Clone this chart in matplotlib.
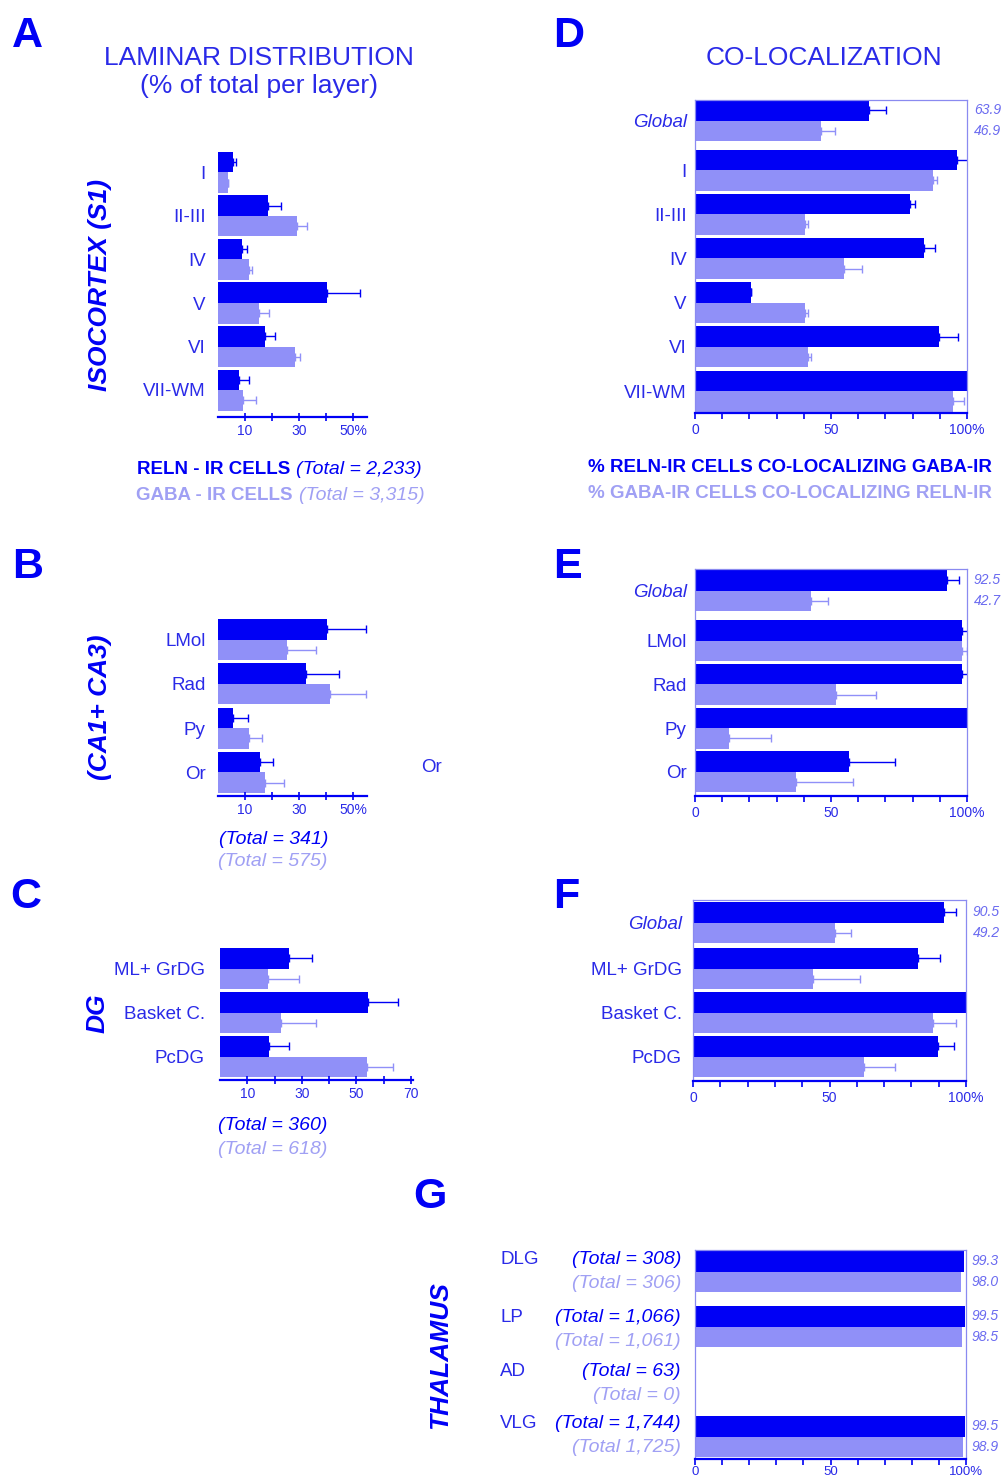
import numpy as np
import matplotlib
matplotlib.use('Agg')
import matplotlib.pyplot as plt

plt.rcParams['font.family'] = ['Liberation Sans', 'DejaVu Sans']

# --- data ---
# A: laminar distribution, isocortex (% of total per layer)
a_cats = ['I', 'II-III', 'IV', 'V', 'VI', 'VII-WM']
a_reln = [5.6, 18.4, 8.8, 40.3, 17.4, 7.8]
a_reln_err = [1.0, 4.8, 1.8, 12.3, 3.8, 3.8]
a_gaba = [3.7, 29.0, 11.6, 15.0, 28.4, 9.3]
a_gaba_err = [0.0, 3.7, 1.0, 3.8, 2.0, 4.9]

# B: hippocampus (CA1 + CA3)
b_cats = ['LMol', 'Rad', 'Py', 'Or']
b_reln = [40.4, 32.5, 5.6, 15.6]
b_reln_err = [14.2, 12.3, 5.6, 4.7]
b_gaba = [25.5, 41.5, 11.6, 17.4]
b_gaba_err = [10.5, 13.3, 4.8, 6.8]

# C: dentate gyrus
c_cats = ['ML+ GrDG', 'Basket C.', 'PcDG']
c_reln = [25.3, 54.3, 17.8]
c_reln_err = [8.5, 11.0, 7.3]
c_gaba = [17.5, 22.3, 53.7]
c_gaba_err = [11.5, 12.8, 9.8]

# D: co-localization, isocortex
d_cats = ['Global', 'I', 'II-III', 'IV', 'V', 'VI', 'VII-WM']
d_reln = [63.9, 96.3, 79.0, 84.3, 20.6, 89.8, 100.0]
d_reln_err = [6.5, 4.4, 2.0, 4.0, 0.0, 7.0, 0.0]
d_gaba = [46.3, 87.5, 40.4, 54.8, 40.4, 41.6, 95.0]
d_gaba_err = [5.0, 1.5, 1.0, 6.5, 1.0, 1.0, 4.0]
d_glob = ['63.9', '46.9']

# E: co-localization, hippocampus
e_cats = ['Global', 'LMol', 'Rad', 'Py', 'Or']
e_reln = [92.5, 98.1, 98.1, 100.0, 56.7]
e_reln_err = [4.4, 4.6, 4.5, 0.0, 16.8]
e_gaba = [42.7, 98.1, 51.8, 12.5, 37.1]
e_gaba_err = [6.3, 2.0, 14.7, 15.6, 21.0]
e_glob = ['92.5', '42.7']

# F: co-localization, dentate gyrus
f_cats = ['Global', 'ML+ GrDG', 'Basket C.', 'PcDG']
f_reln = [92.0, 82.4, 100.0, 89.7]
f_reln_err = [4.5, 8.0, 0.0, 6.0]
f_gaba = [52.0, 44.0, 87.8, 62.5]
f_gaba_err = [6.0, 17.0, 8.5, 11.4]
f_glob = ['90.5', '49.2']

# G: thalamus
g_cats = ['DLG', 'LP', 'AD', 'VLG']
g_reln = [99.3, 99.5, 0.0, 99.5]
g_gaba = [98.0, 98.5, 0.0, 98.9]
g_reln_tot = ['(Total = 308)', '(Total = 1,066)', '(Total = 63)', '(Total = 1,744)']
g_gaba_tot = ['(Total = 306)', '(Total = 1,061)', '(Total = 0)', '(Total 1,725)']
g_reln_lab = ['99.3', '99.5', '', '99.5']
g_gaba_lab = ['98.0', '98.5', '', '98.9']

DARK = '#0000f5'
LIGHT = '#9090f8'
TXT = '#2a2ae8'
LTXT = '#a0a0f4'
EDGE = '#8a8af0'
VAL = '#6a6af0'

W, H = 1002, 1479
fig = plt.figure(figsize=(W / 100, H / 100), dpi=100)


def box(x0, y0, x1, y1):
    return [x0 / W, 1 - y1 / H, (x1 - x0) / W, (y1 - y0) / H]


def ftxt(x, y, s, **kw):
    kw.setdefault('color', TXT)
    kw.setdefault('va', 'center')
    fig.text(x / W, 1 - y / H, s, **kw)


def bars(px, pos, reln, reln_err, gaba, gaba_err, xmax, pitch, first_top, bar_px=20.5):
    x0, y0, x1, y1 = px
    ax = fig.add_axes(box(x0, y0, x1, y1))
    pos = np.asarray(pos, dtype=float)
    h = bar_px / pitch
    ax.barh(pos - h / 2, reln, height=h, color=DARK)
    ax.barh(pos + h / 2, gaba, height=h, color=LIGHT)
    n = len(pos)
    if reln_err is not None:
        ax.errorbar(reln, pos - h / 2, xerr=[np.zeros(n), reln_err], fmt='none',
                    ecolor=DARK, elinewidth=1, capsize=3, capthick=1)
        ax.errorbar(gaba, pos + h / 2, xerr=[np.zeros(n), gaba_err], fmt='none',
                    ecolor=LIGHT, elinewidth=1, capsize=3, capthick=1)
    top = pos[0] - h - (first_top - y0) / pitch
    bot = top + (y1 - y0) / pitch
    ax.set_ylim(bot, top)
    ax.set_xlim(0, xmax)
    return ax, pos, h


def left_style(ax, pos, cats, majors, labels, minors, pad=9):
    for s in ['left', 'top', 'right']:
        ax.spines[s].set_visible(False)
    ax.spines['bottom'].set_color(DARK)
    ax.spines['bottom'].set_linewidth(1.6)
    ax.set_xticks(majors)
    ax.set_xticklabels(labels)
    ax.set_xticks(minors, minor=True)
    ax.tick_params(axis='x', which='both', direction='inout', length=6, width=1.2,
                   color=DARK, labelcolor=TXT, labelsize=10, pad=2)
    ax.set_yticks(pos)
    ax.set_yticklabels(cats)
    ax.tick_params(axis='y', length=0, pad=pad, labelsize=13.5, labelcolor=TXT)


def right_style(ax, pos, cats, pad=6, tsize=10, tpad=3):
    for s in ['left', 'top', 'right']:
        ax.spines[s].set_color(EDGE)
        ax.spines[s].set_linewidth(0.9)
    ax.spines['bottom'].set_color(DARK)
    ax.spines['bottom'].set_linewidth(1.6)
    ax.set_xticks([0, 50, 100])
    ax.set_xticklabels(['0', '50', '100%'])
    ax.set_xticks(np.arange(10, 100, 10), minor=True)
    ax.tick_params(axis='x', which='both', direction='out', length=4, width=1.2,
                   color=DARK, labelcolor=TXT, labelsize=tsize, pad=tpad)
    if cats is None:
        ax.set_yticks([])
    else:
        ax.set_yticks(pos)
        ax.set_yticklabels(cats)
        ax.tick_params(axis='y', length=0, pad=pad, labelsize=13.5, labelcolor=TXT)
        if cats[0] == 'Global':
            ax.get_yticklabels()[0].set_fontstyle('italic')


def glob_labels(ax, pos, h, labs):
    for k, s in enumerate(labs):
        ax.text(1.025, pos[0] + (k - 0.5) * h, s, transform=ax.get_yaxis_transform(),
                fontsize=10, style='italic', color=VAL, va='center', ha='left')


# panel letters
for letter, x, y in [('A', 12, 36), ('D', 553, 36), ('B', 12, 567), ('E', 553, 567),
                     ('C', 10, 897), ('F', 553, 897), ('G', 413, 1197)]:
    ftxt(x, y, letter, fontsize=31, fontweight='bold', color=DARK, ha='left')

# titles
ftxt(259, 58, 'LAMINAR DISTRIBUTION', fontsize=19, ha='center')
ftxt(259, 86, '(% of total per layer)', fontsize=19, ha='center')
ftxt(824, 58, 'CO-LOCALIZATION', fontsize=19, ha='center')

# --- A ---
ax, pos, h = bars((218, 150, 367, 417), np.arange(len(a_cats)), a_reln, a_reln_err,
                  a_gaba, a_gaba_err, 55, 43.5, 152)
left_style(ax, pos, a_cats, [10, 30, 50], ['10', '30', '50%'], [20, 40])
ftxt(100, 285, 'ISOCORTEX (S1)', fontsize=19, fontweight='bold', style='italic',
     rotation=90, ha='center', color=DARK)
ftxt(290, 470, 'RELN - IR CELLS', fontsize=13.5, fontweight='bold', color=DARK, ha='right')
ftxt(296, 470, '(Total = 2,233)', fontsize=14, style='italic', color=DARK, ha='left')
ftxt(293, 496, 'GABA - IR CELLS', fontsize=13.5, fontweight='bold', color=LTXT, ha='right')
ftxt(299, 496, '(Total = 3,315)', fontsize=14, style='italic', color=LTXT, ha='left')

# --- B ---
ax, pos, h = bars((218, 615, 367, 796), np.arange(len(b_cats)), b_reln, b_reln_err,
                  b_gaba, b_gaba_err, 55, 44.3, 619)
left_style(ax, pos, b_cats, [10, 30, 50], ['10', '30', '50%'], [20, 40])
ftxt(100, 707, '(CA1+ CA3)', fontsize=19, fontweight='bold', style='italic',
     rotation=90, ha='center', color=DARK)
ftxt(432, 768, 'Or', fontsize=13.5, ha='center')
ftxt(219, 840, '(Total = 341)', fontsize=14, style='italic', color=DARK, ha='left')
ftxt(218, 862, '(Total = 575)', fontsize=14, style='italic', color=LTXT, ha='left')

# --- C ---
ax, pos, h = bars((220, 945, 413, 1080), np.arange(len(c_cats)), c_reln, c_reln_err,
                  c_gaba, c_gaba_err, 70.7, 44, 948)
left_style(ax, pos, c_cats, [10, 30, 50, 70], ['10', '30', '50', '70'], [20, 40, 60], pad=11)
ftxt(98, 1013, 'DG', fontsize=19, fontweight='bold', style='italic',
     rotation=90, ha='center', color=DARK)
ftxt(218, 1125, '(Total = 360)', fontsize=14, style='italic', color=DARK, ha='left')
ftxt(218, 1149, '(Total = 618)', fontsize=14, style='italic', color=LTXT, ha='left')

# --- D ---
d_pos = np.r_[0, np.arange(1, len(d_cats)) + 0.12]
ax, pos, h = bars((695, 100, 967, 413), d_pos, d_reln, d_reln_err,
                  d_gaba, d_gaba_err, 100, 44.2, 100)
right_style(ax, pos, d_cats)
glob_labels(ax, pos, h, d_glob)
ftxt(790, 467, '% RELN-IR CELLS CO-LOCALIZING GABA-IR', fontsize=13.5,
     fontweight='bold', color=DARK, ha='center')
ftxt(790, 494, '% GABA-IR CELLS CO-LOCALIZING RELN-IR', fontsize=13.5,
     fontweight='bold', color=LTXT, ha='center')

# --- E ---
e_pos = np.r_[0, np.arange(1, len(e_cats)) + 0.15]
ax, pos, h = bars((695, 569, 967, 796), e_pos, e_reln, e_reln_err,
                  e_gaba, e_gaba_err, 100, 43.7, 570)
right_style(ax, pos, e_cats)
glob_labels(ax, pos, h, e_glob)

# --- F ---
f_pos = np.r_[0, np.arange(1, len(f_cats)) + 0.05]
ax, pos, h = bars((693, 900, 966, 1081), f_pos, f_reln, f_reln_err,
                  f_gaba, f_gaba_err, 100, 44, 902)
right_style(ax, pos, f_cats, pad=8)
glob_labels(ax, pos, h, f_glob)

# --- G ---
ax, pos, h = bars((695, 1250, 966, 1459), np.arange(len(g_cats)), g_reln, None,
                  g_gaba, None, 100, 55, 1251)
right_style(ax, pos, None, tsize=9.5, tpad=1)
for k in range(len(g_cats)):
    for yy, s in [(pos[k] - h / 2, g_reln_lab[k]), (pos[k] + h / 2, g_gaba_lab[k])]:
        if s:
            ax.text(1.02, yy, s, transform=ax.get_yaxis_transform(), fontsize=10,
                    style='italic', color=VAL, va='center', ha='left')
ftxt(440, 1355, 'THALAMUS', fontsize=19, fontweight='bold', style='italic',
     rotation=90, ha='center', color=DARK)
g_name_y = [1260, 1318, 1372, 1424]
for k, name in enumerate(g_cats):
    yy = g_name_y[k]
    ftxt(500, yy, name, fontsize=13.5, ha='left')
    ftxt(681, yy, g_reln_tot[k], fontsize=14, style='italic', color=DARK, ha='right')
    ftxt(681, yy + 23, g_gaba_tot[k], fontsize=14, style='italic', color=LTXT, ha='right')

fig.savefig('out.png', dpi=100)
